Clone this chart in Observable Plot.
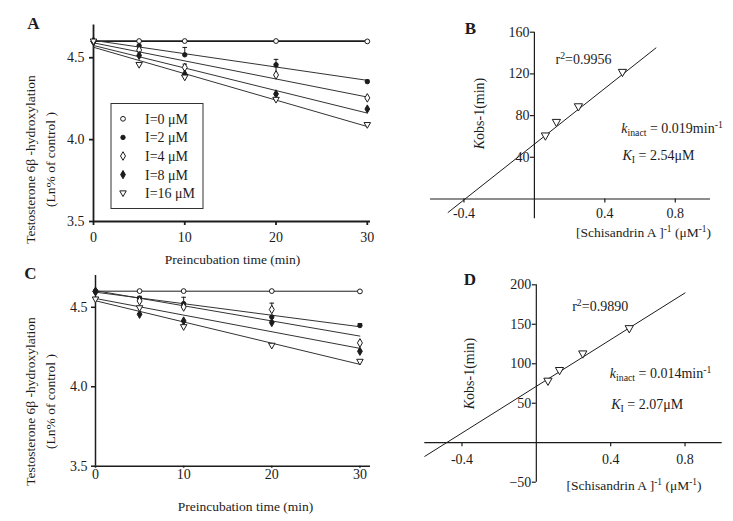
<!DOCTYPE html>
<html><head><meta charset="utf-8">
<script src="https://cdn.jsdelivr.net/npm/d3@7"></script>
<script src="https://cdn.jsdelivr.net/npm/@observablehq/plot@0.6"></script>
<style>
html,body{margin:0;padding:0;background:#fff;}
#wrap{position:relative;width:733px;height:521px;overflow:hidden;background:#fff;}
</style></head><body><div id="wrap"></div>
<script>
// ---------- data ----------
const times = [0, 5, 10, 20, 30];
const seriesLabels = ["I=0 μM", "I=2 μM", "I=4 μM", "I=8 μM", "I=16 μM"];

// Panel A: ln(% of control) vs preincubation time
const a_I0  = [4.600, 4.602, 4.602, 4.602, 4.600];
const a_I2  = [4.600, 4.573, 4.518, 4.457, 4.354];
const a_I4  = [4.600, 4.547, 4.441, 4.395, 4.255];
const a_I8  = [4.600, 4.514, 4.400, 4.279, 4.187];
const a_I16 = [4.600, 4.457, 4.380, 4.244, 4.090];
const aErr_I2 = [0, 0, 0.045, 0.033, 0.010];
const aErr_I4 = [0, 0, 0.020, 0.050, 0];

// Panel C
const c_I0  = [4.600, 4.602, 4.602, 4.602, 4.600];
const c_I2  = [4.600, 4.557, 4.523, 4.439, 4.385];
const c_I4  = [4.600, 4.540, 4.502, 4.486, 4.276];
const c_I8  = [4.600, 4.456, 4.414, 4.404, 4.223];
const c_I16 = [4.550, 4.495, 4.376, 4.259, 4.158];
const cErr_I2 = [0, 0.012, 0.040, 0, 0.012];
const cErr_I4 = [0, 0, 0, 0.040, 0];

// Panels B and D: Kitz-Wilson plots
const invConc = [0.0625, 0.125, 0.25, 0.5];
const b_kobsInv = [60.5, 73.5, 88.5, 121.5];
const d_kobsInv = [78, 91.5, 112.5, 144.5];
const b_kinact = 0.019, b_KI = 2.54, b_r2 = "0.9956";
const d_kinact = 0.014, d_KI = 2.07, d_r2 = "0.9890";
const b_lineRange = [-0.49, 0.69];
const d_lineRange = [-0.6, 0.8];

const timeTicks = [0, 10, 20, 30];
const lnTicks = [3.5, 4.0, 4.5];
const invTicks = [-0.4, 0.4, 0.8];
const b_yTicks = [40, 80, 120, 160];
const d_yTicks = [-50, 50, 100, 150, 200];

// ---------- styling ----------
const font = "Liberation Serif";
const ink = "#1c1c1c";
const triDown = {draw(ctx, size) {
  const r = Math.sqrt(size / Math.PI), w = r * 1.25;
  ctx.moveTo(-w, -r * 0.9); ctx.lineTo(w, -r * 0.9); ctx.lineTo(0, r * 1.3); ctx.closePath();
}};
const capSym = {draw(ctx, size) {
  const r = Math.sqrt(size / Math.PI);
  ctx.moveTo(-r, 0); ctx.lineTo(r, 0);
}};
const styles = [
  {symbol: d3.symbolCircle, fill: "white", r: 2.4},
  {symbol: d3.symbolCircle, fill: ink, r: 2.2},
  {symbol: d3.symbolDiamond, fill: "white", r: 2.6},
  {symbol: d3.symbolDiamond, fill: ink, r: 2.5},
  {symbol: triDown, fill: "white", r: 2.6}
];

function frameOf(p) {
  return {l: p.left + p.mL, r: p.left + p.width - p.mR, t: p.top + p.mT, b: p.top + p.height - p.mB};
}
function label(text, X, Y, f, o = {}) {
  return Plot.text([text], {
    text: d => d, frameAnchor: "top-left", dx: X - f.l, dy: Y - f.t,
    textAnchor: o.anchor || "middle", lineAnchor: "middle", rotate: o.rotate || 0,
    fontSize: o.size || 13.5, fontWeight: o.weight || "normal", fontStyle: "normal",
    lineHeight: o.lh || 1.2, fill: ink
  });
}
function richify(svg) {
  d3.select(svg).selectAll("text").each(function() {
    const s = this.textContent;
    if (!/\^\{|_\{|\*/.test(s)) return;
    const el = d3.select(this);
    this.textContent = "";
    let shift = 0;
    for (const part of s.split(/(\^\{[^}]*\}|_\{[^}]*\}|\*[^*]*\*)/g)) {
      if (!part) continue;
      let kind = "n", txt = part;
      if (part.startsWith("^{")) { kind = "sup"; txt = part.slice(2, -1); }
      else if (part.startsWith("_{")) { kind = "sub"; txt = part.slice(2, -1); }
      else if (part.startsWith("*")) { kind = "it"; txt = part.slice(1, -1); }
      const target = kind === "sup" ? -5 : kind === "sub" ? 3 : 0;
      const t = el.append("tspan").text(txt);
      if (target !== shift) { t.attr("dy", target - shift); shift = target; }
      if (kind === "sup" || kind === "sub") t.attr("font-size", "0.7em");
      if (kind === "it") t.attr("font-style", "italic");
    }
  });
}
function place(svg, p) {
  svg.style.position = "absolute";
  svg.style.left = p.left + "px";
  svg.style.top = p.top + "px";
  richify(svg);
  document.getElementById("wrap").appendChild(svg);
}
const baseStyle = {fontFamily: font, fontSize: "14px", color: ink, background: "transparent", overflow: "visible"};

// ---------- time-course panels (A, C) ----------
function timePanel(p, vals, errs, cfg) {
  const f = frameOf(p);
  const rows = seriesLabels.flatMap((s, k) => times.map((t, i) => ({s, k, t, v: vals[k][i]})));
  const errRows = errs.flatMap(({k, e}) => times.map((t, i) => ({t, v: vals[k][i], e: e[i]}))).filter(d => d.e > 0);
  const marks = [
    Plot.ruleX([0], {stroke: ink, strokeWidth: cfg.axisW}),
    Plot.ruleY([p.yDomain[0]], {stroke: ink, strokeWidth: cfg.axisW}),
    Plot.axisY({ticks: lnTicks, tickFormat: d3.format(".1f"), tickSize: 4, tickPadding: cfg.yPad, label: null, strokeWidth: cfg.axisW, fontSize: 14}),
    Plot.axisX({ticks: timeTicks, tickSize: cfg.xTick, tickPadding: cfg.xPad, label: null, strokeWidth: cfg.axisW, fontSize: 14}),
    Plot.linearRegressionY(rows.filter(d => d.k === 0), {x: "t", y: "v", ci: 0, stroke: ink, strokeWidth: cfg.zeroW}),
    Plot.linearRegressionY(rows.filter(d => d.k > 0), {x: "t", y: "v", z: "s", ci: 0, stroke: "#333", strokeWidth: 1}),
    Plot.ruleX(errRows, {x: "t", y1: "v", y2: d => d.v + d.e, stroke: ink, strokeWidth: 1}),
    Plot.dot(errRows, {x: "t", y: d => d.v + d.e, symbol: capSym, r: 2.3, stroke: ink, fill: "none", strokeWidth: 1}),
    ...styles.map((st, k) => Plot.dot(rows.filter(d => d.k === k), {x: "t", y: "v", symbol: st.symbol, r: st.r, fill: st.fill, stroke: ink, strokeWidth: 1})),
    label(cfg.letter, cfg.letterPos[0], cfg.letterPos[1], f, {size: 17, weight: "bold"}),
    label("Testosterone 6β -hydroxylation\n(Ln% of control )", cfg.yLab[0], cfg.yLab[1], f, {rotate: -90, lh: 1.5}),
    label("Preincubation time (min)", cfg.xLab[0], cfg.xLab[1], f)
  ];
  if (cfg.legend) marks.push((index, scales, values, dims) => {
    const g = d3.create("svg:g").attr("font-family", font).attr("font-size", 14).attr("text-anchor", "start");
    const x0 = dims.marginLeft + 18, y0 = dims.marginTop + 79;
    g.append("rect").attr("x", x0).attr("y", y0).attr("width", 92).attr("height", 105)
      .attr("fill", "white").attr("stroke", "#333").attr("stroke-width", 1);
    seriesLabels.forEach((lab, i) => {
      const cy = y0 + 15.3 + i * 18.6, st = styles[i];
      g.append("path").attr("transform", `translate(${x0 + 12},${cy})`)
        .attr("d", d3.symbol(st.symbol, Math.PI * st.r * st.r)())
        .attr("fill", st.fill).attr("stroke", ink);
      g.append("text").attr("x", x0 + 34).attr("y", cy).attr("dy", "0.35em")
        .attr("text-anchor", "start").attr("fill", ink).text(lab);
    });
    return g.node();
  });
  return Plot.plot({
    width: p.width, height: p.height,
    marginLeft: p.mL, marginRight: p.mR, marginTop: p.mT, marginBottom: p.mB,
    x: {domain: p.xDomain}, y: {domain: p.yDomain},
    style: baseStyle,
    marks
  });
}

const pA = {left: 0, top: 0, width: 375, height: 258, mL: 93, mR: 5, mT: 24.5, mB: 37, xDomain: [0, 30.35], yDomain: [3.5, 4.7]};
place(timePanel(pA, [a_I0, a_I2, a_I4, a_I8, a_I16], [{k: 1, e: aErr_I2}, {k: 2, e: aErr_I4}],
  {letter: "A", letterPos: [33, 22], yLab: [38, 159], xLab: [232, 258], legend: true, axisW: 1.8, zeroW: 1.8, yPad: 5, xTick: 4, xPad: 7}), pA);

const pC = {left: 0, top: 258, width: 375, height: 263, mL: 95, mR: 5, mT: 17, mB: 55.3, xDomain: [0, 31.2], yDomain: [3.5, 4.7]};
place(timePanel(pC, [c_I0, c_I2, c_I4, c_I8, c_I16], [{k: 1, e: cErr_I2}, {k: 2, e: cErr_I4}],
  {letter: "C", letterPos: [30, 272], yLab: [38, 401], xLab: [245, 505], legend: false, axisW: 1.5, zeroW: 1, yPad: 4, xTick: 2, xPad: 1}), pC);

// ---------- Kitz-Wilson panels (B, D) ----------
function kwPanel(p, yVals, kinact, KI, r2, range, yTicks, cfg) {
  const f = frameOf(p);
  const fw = p.width - p.mL - p.mR, fh = p.height - p.mT - p.mB;
  const dxZero = (0 - p.xDomain[0]) / (p.xDomain[1] - p.xDomain[0]) * fw;
  const dyZero = -(0 - p.yDomain[0]) / (p.yDomain[1] - p.yDomain[0]) * fh;
  const pts = invConc.map((x, i) => ({x, y: yVals[i]}));
  const fit = range.map(x => ({x, y: (1 + KI * x) / kinact}));
  return Plot.plot({
    width: p.width, height: p.height,
    marginLeft: p.mL, marginRight: p.mR, marginTop: p.mT, marginBottom: p.mB,
    x: {domain: p.xDomain}, y: {domain: p.yDomain},
    style: baseStyle,
    marks: [
      Plot.ruleX([0], {stroke: ink, strokeWidth: 1.2}),
      Plot.ruleY([0], {stroke: ink, strokeWidth: 1.2}),
      Plot.axisY({ticks: yTicks, tickSize: 4, tickPadding: 1, dx: dxZero, label: null, fontSize: 14, strokeWidth: 1.2}),
      Plot.axisX({ticks: invTicks, tickFormat: d => d.toFixed(1), tickSize: 4, tickPadding: cfg.xPad, dy: dyZero, label: null, fontSize: 14, strokeWidth: 1.2}),
      Plot.line(fit, {x: "x", y: "y", stroke: ink, strokeWidth: 1}),
      Plot.dot(pts, {x: "x", y: "y", symbol: triDown, r: 3.3, fill: "white", stroke: ink, strokeWidth: 1}),
      label(cfg.letter, cfg.letterPos[0], cfg.letterPos[1], f, {size: 17, weight: "bold"}),
      label("*K*obs-1(min)", cfg.yLab[0], cfg.yLab[1], f, {rotate: -90, size: 14}),
      label("[Schisandrin A ]^{-1} (μM^{-1})", cfg.xLab[0], cfg.xLab[1], f),
      label("r^{2}=" + r2, cfg.r2Pos[0], cfg.r2Pos[1], f, {anchor: "start", size: 14}),
      label("*k*_{inact} = " + kinact.toFixed(3) + "min^{-1}", cfg.kPos[0], cfg.kPos[1], f, {anchor: "start", size: 14}),
      label("*K*_{I} = " + KI.toFixed(2) + "μM", cfg.KPos[0], cfg.KPos[1], f, {anchor: "start", size: 14})
    ]
  });
}

const pB = {left: 370, top: 0, width: 363, height: 260, mL: 60, mR: 23, mT: 31.7, mB: 41.7, xDomain: [-0.59, 1.0], yDomain: [-19, 160]};
place(kwPanel(pB, b_kobsInv, b_kinact, b_KI, b_r2, b_lineRange, b_yTicks,
  {letter: "B", letterPos: [470, 27], yLab: [478, 113], xLab: [643, 231], r2Pos: [555, 58], kPos: [620.7, 126.7], KPos: [622, 154.3], xPad: 5}), pB);

const pD = {left: 370, top: 260, width: 363, height: 261, mL: 54.3, mR: 11.3, mT: 24.3, mB: 39.3, xDomain: [-0.6, 1.0], yDomain: [-50, 200]};
place(kwPanel(pD, d_kobsInv, d_kinact, d_KI, d_r2, d_lineRange, d_yTicks,
  {letter: "D", letterPos: [469.3, 278.3], yLab: [468.3, 373], xLab: [633.5, 484], r2Pos: [571.7, 305], kPos: [609.3, 371.7], KPos: [610.7, 403.3], xPad: 7}), pD);
</script>
</body></html>
